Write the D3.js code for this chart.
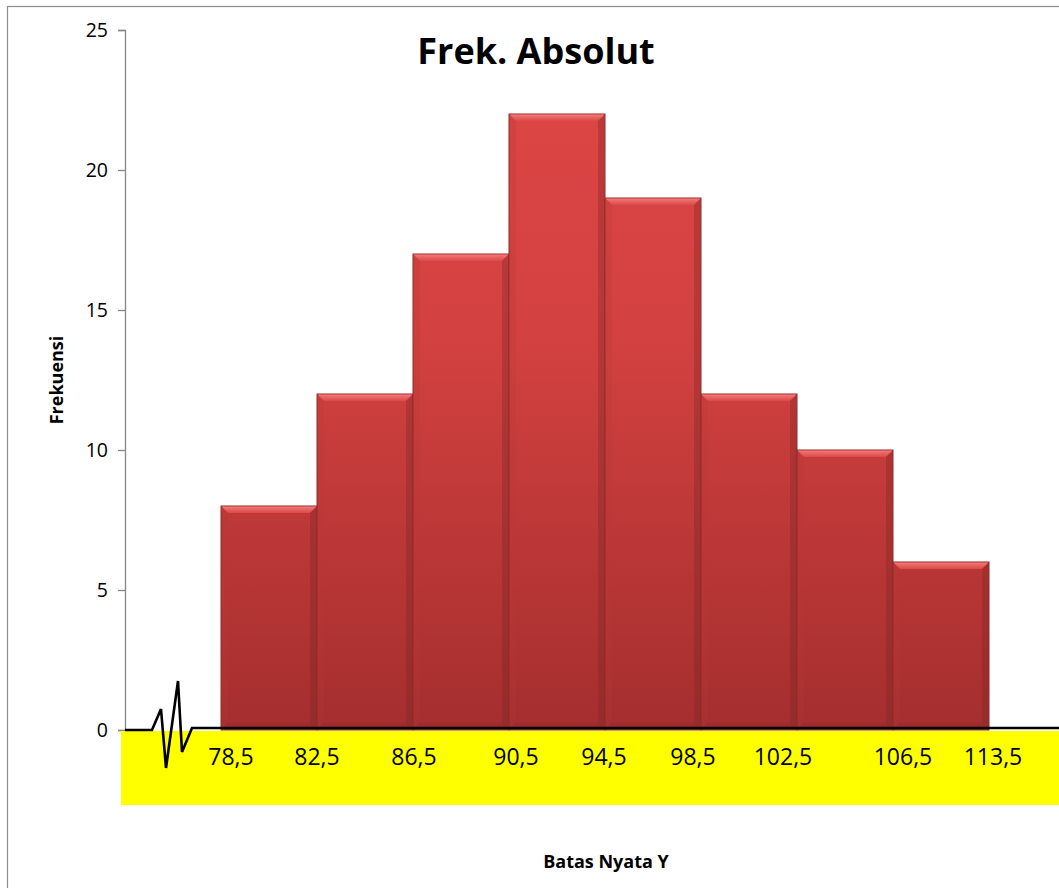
<!DOCTYPE html>
<html>
<head>
<meta charset="utf-8">
<script src="https://cdn.jsdelivr.net/npm/d3@7/dist/d3.min.js"></script>
<style>
  html, body { margin: 0; padding: 0; background: #fff; }
  svg { display: block; }
  text { font-family: "Open Sans", Lato, "Liberation Sans", sans-serif; fill: #000; }
</style>
</head>
<body>
<svg id="chart" width="1059" height="888"></svg>
<script>
// Frequency table: class boundaries (batas nyata) and absolute frequencies
const boundaries = ["78,5", "82,5", "86,5", "90,5", "94,5", "98,5", "102,5", "106,5", "113,5"];
const frequencies = [8, 12, 17, 22, 19, 12, 10, 6];
const yTicks = [0, 5, 10, 15, 20, 25];

const svg = d3.select("#chart");
const W = 1059, H = 888;
const plot = { left: 125, top: 30, bottom: 730, slot: 96 };

// Ten slots: an empty one before the first class, the eight classes, one after
const slots = d3.range(frequencies.length + 2);
const x = d3.scaleBand().domain(slots)
  .range([plot.left, plot.left + plot.slot * slots.length]).padding(0);
const y = d3.scaleLinear().domain([0, 25]).range([plot.bottom, plot.top]);

// Chart frame
svg.append("rect").attr("x", 7.5).attr("y", 6.5)
  .attr("width", W + 20).attr("height", H + 20)
  .attr("fill", "#fff").attr("stroke", "#8c8c8c").attr("stroke-width", 1.2);

// Bar gradient
const defs = svg.append("defs");
const grad = defs.append("linearGradient").attr("id", "barFill")
  .attr("gradientUnits", "userSpaceOnUse")
  .attr("x1", 0).attr("x2", 0).attr("y1", y(25)).attr("y2", y(0));
grad.append("stop").attr("offset", "0%").attr("stop-color", "#df4746");
grad.append("stop").attr("offset", "45%").attr("stop-color", "#d24140");
grad.append("stop").attr("offset", "100%").attr("stop-color", "#a52e2e");

const bevelGrad = defs.append("linearGradient").attr("id", "bevelTop")
  .attr("x1", 0).attr("x2", 0).attr("y1", 0).attr("y2", 1);
bevelGrad.append("stop").attr("offset", "0%").attr("stop-color", "#f07a77");
bevelGrad.append("stop").attr("offset", "100%").attr("stop-color", "#dc4947");

// Bars
const bars = svg.append("g").selectAll("g").data(frequencies).join("g")
  .attr("transform", (d, i) => `translate(${x(i + 1)},0)`);
const bw = x.bandwidth();
const bev = 7;

bars.append("rect")
  .attr("x", 0).attr("y", d => y(d))
  .attr("width", bw).attr("height", d => y(0) - y(d))
  .attr("fill", "url(#barFill)")
  .attr("stroke", "#8e2b2b").attr("stroke-width", 1);

// Bevel: light top face, shaded sides
bars.append("path")
  .attr("d", d => `M0.5,${y(d) + 0.5} L${bw - 0.5},${y(d) + 0.5} L${bw - bev},${y(d) + bev} L${bev},${y(d) + bev} Z`)
  .attr("fill", "url(#bevelTop)");
bars.append("path")
  .attr("d", d => `M0.5,${y(d) + 0.5} L${bev},${y(d) + bev} L${bev},${y(0) - bev} L0.5,${y(0)} Z`)
  .attr("fill", "#b83736").attr("opacity", 0.25);
bars.append("path")
  .attr("d", d => `M${bw - 0.5},${y(d) + 0.5} L${bw - bev},${y(d) + bev} L${bw - bev},${y(0) - bev} L${bw - 0.5},${y(0)} Z`)
  .attr("fill", "#7e2424").attr("opacity", 0.35);
bars.append("path")
  .attr("d", d => `M0.5,${y(0)} L${bev},${y(0) - bev} L${bw - bev},${y(0) - bev} L${bw - 0.5},${y(0)} Z`)
  .attr("fill", "#8a2828").attr("opacity", 0.3);

// Y axis
const yAxis = svg.append("g").attr("transform", `translate(${plot.left},0)`)
  .call(d3.axisLeft(y).tickValues(yTicks).tickSize(7).tickPadding(10));
yAxis.select(".domain").attr("stroke", "#878787").attr("stroke-width", 1.3);
yAxis.selectAll(".tick line").attr("stroke", "#878787").attr("stroke-width", 1.3);
yAxis.selectAll(".tick text")
  .style("font-family", "'Open Sans', Lato, sans-serif")
  .attr("font-size", 19.5).attr("fill", "#000");

// Highlighted band behind the class-boundary labels
svg.append("rect")
  .attr("x", plot.left - 4).attr("y", y(0) + 1)
  .attr("width", W).attr("height", 74)
  .attr("fill", "#ffff00");

// Axis break mark followed by the baseline
const brk = d3.line();
svg.append("path")
  .attr("d", brk([
    [plot.left, y(0)], [152, y(0)], [161, 709], [166, 768], [178, 681],
    [182, 752], [192, y(0) - 2], [220, y(0) - 2], [W + 5, y(0) - 2]
  ]))
  .attr("fill", "none").attr("stroke", "#000").attr("stroke-width", 2.6)
  .attr("stroke-linejoin", "miter");

// Class boundary labels near the bar edges (small hand nudges for legibility)
const labelDx = [10, 0, 1, 7, -1, -8, -14, 10, 4];
svg.append("g").selectAll("text").data(boundaries).join("text")
  .attr("x", (d, i) => x(i + 1) + labelDx[i])
  .attr("y", y(0) + 35)
  .attr("text-anchor", "middle")
  .attr("font-size", 23)
  .text(d => d);

// Title and axis titles
svg.append("text").attr("x", 536).attr("y", 64)
  .attr("text-anchor", "middle").attr("font-size", 36).attr("font-weight", "bold")
  .text("Frek. Absolut");

svg.append("text")
  .attr("transform", `translate(63,380) rotate(-90)`)
  .attr("text-anchor", "middle").attr("font-size", 18).attr("font-weight", "bold")
  .text("Frekuensi");

svg.append("text").attr("x", 606).attr("y", 868)
  .attr("text-anchor", "middle").attr("font-size", 18).attr("font-weight", "bold")
  .text("Batas Nyata Y");
</script>
</body>
</html>
